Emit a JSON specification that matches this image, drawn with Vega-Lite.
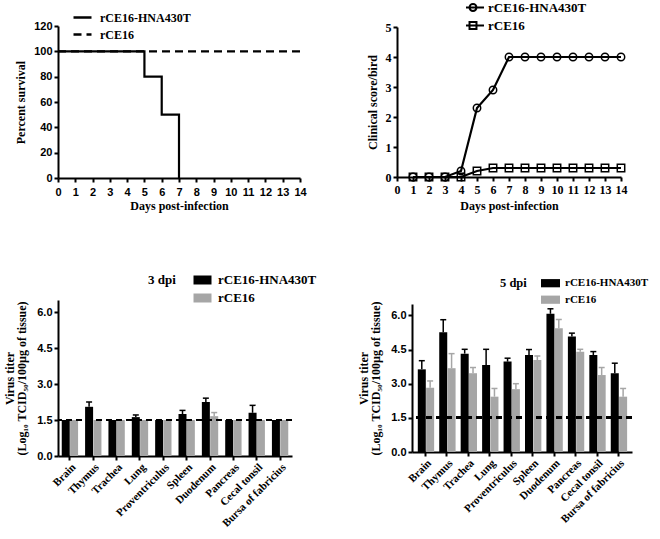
{
  "$schema": "https://vega.github.io/schema/vega-lite/v6.json",
  "autosize": {"type": "none"},
  "padding": {"left": 58, "top": 26, "right": 602, "bottom": 513},
  "bounds": "flush",
  "spacing": 274,
  "resolve": {"scale": {"color": "independent", "shape": "independent", "strokeDash": "independent"}, "legend": {"color": "independent", "shape": "independent", "strokeDash": "independent"}},
  "config": {
    "view": {"stroke": null},
    "axis": {"grid": false, "domainColor": "black", "domainWidth": 2, "tickColor": "black", "tickWidth": 2, "tickSize": 4, "labelColor": "black", "titleColor": "black", "labelFontWeight": "bold", "titleFontWeight": "bold", "titleFont": "Liberation Serif", "titleFontSize": 12, "labelFont": "Liberation Sans", "labelFontSize": 11, "labelPadding": 2, "labelOverlap": false, "labelFlush": false},
    "legend": {"labelColor": "black", "titleColor": "black"}
  },
  "vconcat": [
    {
      "hconcat": [
        {
          "width": 242,
          "height": 152,
          "data": {"values": [
            {"day": 0, "pct": 100, "virus": "rCE16"},
            {"day": 14, "pct": 100, "virus": "rCE16"},
            {"day": 0, "pct": 100, "virus": "rCE16-HNA430T"},
            {"day": 5, "pct": 80, "virus": "rCE16-HNA430T"},
            {"day": 6, "pct": 50, "virus": "rCE16-HNA430T"},
            {"day": 7, "pct": 0, "virus": "rCE16-HNA430T"}
          ]},
          "mark": {"type": "line", "interpolate": "step-after", "color": "black", "strokeWidth": 2.2},
          "encoding": {
            "x": {"field": "day", "type": "quantitative", "scale": {"domain": [0, 14], "nice": false}, "axis": {"values": [0,1,2,3,4,5,6,7,8,9,10,11,12,13,14], "format": "d", "title": "Days post-infection", "titlePadding": 3, "labelPadding": 4}},
            "y": {"field": "pct", "type": "quantitative", "scale": {"domain": [0, 120]}, "axis": {"values": [0,20,40,60,80,100,120], "format": "d", "title": "Percent survival", "titlePadding": 6}},
            "strokeDash": {"field": "virus", "type": "nominal", "scale": {"domain": ["rCE16-HNA430T", "rCE16"], "range": [[1, 0], [8, 5]]}, "legend": {"title": null, "orient": "none", "legendX": 17, "legendY": -16, "symbolType": "M-1.5,0H1.5", "symbolSize": 144, "symbolStrokeWidth": 2.5, "symbolStrokeColor": "black", "labelFont": "Liberation Serif", "labelFontWeight": "bold", "labelFontSize": 12, "labelOffset": 10, "rowPadding": 3, "padding": 0}}
          }
        },
        {
          "width": 224,
          "height": 150,
          "data": {"values": [
            {"day": 1, "score": 0, "virus": "rCE16-HNA430T"},
            {"day": 2, "score": 0, "virus": "rCE16-HNA430T"},
            {"day": 3, "score": 0, "virus": "rCE16-HNA430T"},
            {"day": 4, "score": 0.2, "virus": "rCE16-HNA430T"},
            {"day": 5, "score": 2.3, "virus": "rCE16-HNA430T"},
            {"day": 6, "score": 2.9, "virus": "rCE16-HNA430T"},
            {"day": 7, "score": 4, "virus": "rCE16-HNA430T"},
            {"day": 8, "score": 4, "virus": "rCE16-HNA430T"},
            {"day": 9, "score": 4, "virus": "rCE16-HNA430T"},
            {"day": 10, "score": 4, "virus": "rCE16-HNA430T"},
            {"day": 11, "score": 4, "virus": "rCE16-HNA430T"},
            {"day": 12, "score": 4, "virus": "rCE16-HNA430T"},
            {"day": 13, "score": 4, "virus": "rCE16-HNA430T"},
            {"day": 14, "score": 4, "virus": "rCE16-HNA430T"},
            {"day": 1, "score": 0, "virus": "rCE16"},
            {"day": 2, "score": 0, "virus": "rCE16"},
            {"day": 3, "score": 0, "virus": "rCE16"},
            {"day": 4, "score": 0, "virus": "rCE16"},
            {"day": 5, "score": 0.2, "virus": "rCE16"},
            {"day": 6, "score": 0.3, "virus": "rCE16"},
            {"day": 7, "score": 0.3, "virus": "rCE16"},
            {"day": 8, "score": 0.3, "virus": "rCE16"},
            {"day": 9, "score": 0.3, "virus": "rCE16"},
            {"day": 10, "score": 0.3, "virus": "rCE16"},
            {"day": 11, "score": 0.3, "virus": "rCE16"},
            {"day": 12, "score": 0.3, "virus": "rCE16"},
            {"day": 13, "score": 0.3, "virus": "rCE16"},
            {"day": 14, "score": 0.3, "virus": "rCE16"}
          ]},
          "encoding": {
            "x": {"field": "day", "type": "quantitative", "scale": {"domain": [0, 14], "nice": false}, "axis": {"values": [0,1,2,3,4,5,6,7,8,9,10,11,12,13,14], "format": "d", "title": "Days post-infection", "titlePadding": 5, "labelPadding": 3, "labelFont": "Liberation Serif", "labelFontSize": 12}},
            "y": {"field": "score", "type": "quantitative", "scale": {"domain": [0, 5]}, "axis": {"values": [0,1,2,3,4,5], "format": "d", "title": "Clinical score/bird", "titlePadding": 6, "labelFont": "Liberation Serif", "labelFontSize": 12}}
          },
          "layer": [
            {
              "mark": {"type": "line", "color": "black", "strokeWidth": 2.2},
              "encoding": {"detail": {"field": "virus", "type": "nominal"}}
            },
            {
              "mark": {"type": "point", "filled": false, "color": "black", "strokeWidth": 1.5, "size": 55, "opacity": 1},
              "encoding": {
                "shape": {"field": "virus", "type": "nominal", "scale": {"domain": ["rCE16-HNA430T", "rCE16"], "range": ["circle", "square"]}, "legend": null}
              }
            },
            {
              "transform": [{"filter": "false"}],
              "mark": {"type": "point", "filled": false, "color": "black", "strokeWidth": 2, "opacity": 1},
              "encoding": {
                "shape": {"field": "virus", "type": "nominal", "scale": {"domain": ["rCE16-HNA430T", "rCE16"], "range": ["M-1.83,0H1.83M0.58,0A0.58,0.58,0,1,1,-0.58,0A0.58,0.58,0,1,1,0.58,0", "M-1.83,0H1.83M-0.58,-0.58H0.58V0.58H-0.58Z"]}, "legend": {"title": null, "orient": "none", "legendX": 69, "legendY": -26, "symbolSize": 144, "symbolStrokeWidth": 2, "symbolStrokeColor": "black", "labelFont": "Liberation Serif", "labelFontWeight": "bold", "labelFontSize": 13, "labelOffset": 8, "clipHeight": 13, "rowPadding": 4, "padding": 0}}
              }
            }
          ],
          "resolve": {"scale": {"shape": "independent"}, "legend": {"shape": "independent"}}
        }
      ],
      "spacing": 97,
      "bounds": "flush",
      "center": true,
      "resolve": {"scale": {"shape": "independent", "strokeDash": "independent"}, "legend": {"shape": "independent", "strokeDash": "independent"}}
    },
    {
      "hconcat": [
        {
          "width": 234,
          "height": 156,
          "data": {"values": [
            {"tissue": "Brain", "virus": "rCE16-HNA430T", "value": 1.5, "upper": null},
            {"tissue": "Brain", "virus": "rCE16", "value": 1.5, "upper": null},
            {"tissue": "Thymus", "virus": "rCE16-HNA430T", "value": 2.05, "upper": 2.25},
            {"tissue": "Thymus", "virus": "rCE16", "value": 1.5, "upper": null},
            {"tissue": "Trachea", "virus": "rCE16-HNA430T", "value": 1.5, "upper": null},
            {"tissue": "Trachea", "virus": "rCE16", "value": 1.5, "upper": null},
            {"tissue": "Lung", "virus": "rCE16-HNA430T", "value": 1.62, "upper": 1.71},
            {"tissue": "Lung", "virus": "rCE16", "value": 1.5, "upper": null},
            {"tissue": "Proventriculus", "virus": "rCE16-HNA430T", "value": 1.5, "upper": null},
            {"tissue": "Proventriculus", "virus": "rCE16", "value": 1.5, "upper": null},
            {"tissue": "Spleen", "virus": "rCE16-HNA430T", "value": 1.75, "upper": 1.9},
            {"tissue": "Spleen", "virus": "rCE16", "value": 1.5, "upper": null},
            {"tissue": "Duodenum", "virus": "rCE16-HNA430T", "value": 2.25, "upper": 2.41},
            {"tissue": "Duodenum", "virus": "rCE16", "value": 1.66, "upper": 1.81},
            {"tissue": "Pancreas", "virus": "rCE16-HNA430T", "value": 1.5, "upper": null},
            {"tissue": "Pancreas", "virus": "rCE16", "value": 1.5, "upper": null},
            {"tissue": "Cecal tonsil", "virus": "rCE16-HNA430T", "value": 1.8, "upper": 2.11},
            {"tissue": "Cecal tonsil", "virus": "rCE16", "value": 1.5, "upper": null},
            {"tissue": "Bursa of fabricius", "virus": "rCE16-HNA430T", "value": 1.5, "upper": null},
            {"tissue": "Bursa of fabricius", "virus": "rCE16", "value": 1.5, "upper": null}
          ]},
          "layer": [
            {
              "mark": {"type": "bar"},
              "encoding": {
                "x": {"field": "tissue", "type": "nominal", "sort": null, "scale": {"paddingInner": 0.3, "paddingOuter": 0.16}, "axis": {"title": null, "labelAngle": -45, "labelAlign": "right", "labelBaseline": "top", "labelFont": "Liberation Serif", "labelFontSize": 11, "labelPadding": 1}},
                "xOffset": {"field": "virus", "type": "nominal", "sort": ["rCE16-HNA430T", "rCE16"], "scale": {"paddingInner": 0.04}},
                "y": {"field": "value", "type": "quantitative", "scale": {"domain": [0, 6.5], "nice": false}, "axis": {"values": [0, 1.5, 3, 4.5, 6], "tickCount": 10, "format": ".1f", "labelOverlap": false, "title": ["Virus titer", "(Log₁₀ TCID₅₀/100µg of tissue)"], "titleLineHeight": 12, "titlePadding": 8}},
                "color": {"field": "virus", "type": "nominal", "scale": {"domain": ["rCE16-HNA430T", "rCE16"], "range": ["#000000", "#a6a6a6"]}, "legend": {"title": "3 dpi", "titleOrient": "left", "titleAnchor": "start", "titleBaseline": "top", "titleFont": "Liberation Serif", "titleFontWeight": "bold", "titleFontSize": 13, "titlePadding": 20, "orient": "none", "legendX": 90, "legendY": -26.5, "symbolType": "M-1.5,-0.75H1.5V0.75H-1.5Z", "symbolSize": 144, "symbolStrokeWidth": 0, "labelFont": "Liberation Serif", "labelFontWeight": "bold", "labelFontSize": 13, "labelOffset": 9, "rowPadding": 4, "padding": 0}}
              }
            },
            {
              "mark": {"type": "rule", "strokeWidth": 1.5},
              "encoding": {
                "x": {"field": "tissue", "type": "nominal", "sort": null},
                "xOffset": {"field": "virus", "type": "nominal", "sort": ["rCE16-HNA430T", "rCE16"]},
                "y": {"field": "value", "type": "quantitative"},
                "y2": {"field": "upper"},
                "color": {"field": "virus", "type": "nominal"}
              }
            },
            {
              "mark": {"type": "tick", "thickness": 1.5, "size": 6, "opacity": 1},
              "encoding": {
                "x": {"field": "tissue", "type": "nominal", "sort": null},
                "xOffset": {"field": "virus", "type": "nominal", "sort": ["rCE16-HNA430T", "rCE16"]},
                "y": {"field": "upper", "type": "quantitative"},
                "color": {"field": "virus", "type": "nominal"}
              }
            },
            {
              "mark": {"type": "rule", "strokeDash": [6, 4], "strokeWidth": 2, "color": "black"},
              "encoding": {"y": {"datum": 1.5}}
            }
          ]
        },
        {
          "width": 220,
          "height": 148,
          "data": {"values": [
            {"tissue": "Brain", "virus": "rCE16-HNA430T", "value": 3.63, "upper": 4.01},
            {"tissue": "Brain", "virus": "rCE16", "value": 2.82, "upper": 3.12},
            {"tissue": "Thymus", "virus": "rCE16-HNA430T", "value": 5.26, "upper": 5.81},
            {"tissue": "Thymus", "virus": "rCE16", "value": 3.68, "upper": 4.32},
            {"tissue": "Trachea", "virus": "rCE16-HNA430T", "value": 4.32, "upper": 4.51},
            {"tissue": "Trachea", "virus": "rCE16", "value": 3.46, "upper": 3.71},
            {"tissue": "Lung", "virus": "rCE16-HNA430T", "value": 3.82, "upper": 4.51},
            {"tissue": "Lung", "virus": "rCE16", "value": 2.43, "upper": 2.79},
            {"tissue": "Proventriculus", "virus": "rCE16-HNA430T", "value": 3.97, "upper": 4.12},
            {"tissue": "Proventriculus", "virus": "rCE16", "value": 2.76, "upper": 3.0},
            {"tissue": "Spleen", "virus": "rCE16-HNA430T", "value": 4.26, "upper": 4.5},
            {"tissue": "Spleen", "virus": "rCE16", "value": 4.04, "upper": 4.22},
            {"tissue": "Duodenum", "virus": "rCE16-HNA430T", "value": 6.07, "upper": 6.29},
            {"tissue": "Duodenum", "virus": "rCE16", "value": 5.44, "upper": 5.82},
            {"tissue": "Pancreas", "virus": "rCE16-HNA430T", "value": 5.07, "upper": 5.22},
            {"tissue": "Pancreas", "virus": "rCE16", "value": 4.4, "upper": 4.51},
            {"tissue": "Cecal tonsil", "virus": "rCE16-HNA430T", "value": 4.26, "upper": 4.41},
            {"tissue": "Cecal tonsil", "virus": "rCE16", "value": 3.38, "upper": 3.71},
            {"tissue": "Bursa of fabricius", "virus": "rCE16-HNA430T", "value": 3.46, "upper": 3.9},
            {"tissue": "Bursa of fabricius", "virus": "rCE16", "value": 2.43, "upper": 2.79}
          ]},
          "layer": [
            {
              "mark": {"type": "bar"},
              "encoding": {
                "x": {"field": "tissue", "type": "nominal", "sort": null, "scale": {"paddingInner": 0.28, "paddingOuter": 0.27}, "axis": {"title": null, "labelAngle": -45, "labelAlign": "right", "labelBaseline": "top", "labelFont": "Liberation Serif", "labelFontSize": 11, "labelPadding": 1}},
                "xOffset": {"field": "virus", "type": "nominal", "sort": ["rCE16-HNA430T", "rCE16"], "scale": {"paddingInner": 0.1}},
                "y": {"field": "value", "type": "quantitative", "scale": {"domain": [0, 6.5], "nice": false}, "axis": {"values": [0, 1.5, 3, 4.5, 6], "tickCount": 10, "format": ".1f", "labelOverlap": false, "title": ["Virus titer", "(Log₁₀ TCID₅₀/100µg of tissue)"], "titleLineHeight": 12, "titlePadding": 8}},
                "color": {"field": "virus", "type": "nominal", "scale": {"domain": ["rCE16-HNA430T", "rCE16"], "range": ["#000000", "#a6a6a6"]}, "legend": {"title": "5 dpi", "titleOrient": "left", "titleAnchor": "start", "titleBaseline": "top", "titleFont": "Liberation Serif", "titleFontWeight": "bold", "titleFontSize": 12.5, "titlePadding": 17, "orient": "none", "legendX": 88, "legendY": -27.3, "symbolType": "M-1.5,-0.65H1.5V0.65H-1.5Z", "symbolSize": 160, "symbolStrokeWidth": 0, "labelFont": "Liberation Serif", "labelFontWeight": "bold", "labelFontSize": 11, "labelOffset": 8, "rowPadding": 4.5, "padding": 0}}
              }
            },
            {
              "mark": {"type": "rule", "strokeWidth": 1.5},
              "encoding": {
                "x": {"field": "tissue", "type": "nominal", "sort": null},
                "xOffset": {"field": "virus", "type": "nominal", "sort": ["rCE16-HNA430T", "rCE16"]},
                "y": {"field": "value", "type": "quantitative"},
                "y2": {"field": "upper"},
                "color": {"field": "virus", "type": "nominal"}
              }
            },
            {
              "mark": {"type": "tick", "thickness": 1.5, "size": 6, "opacity": 1},
              "encoding": {
                "x": {"field": "tissue", "type": "nominal", "sort": null},
                "xOffset": {"field": "virus", "type": "nominal", "sort": ["rCE16-HNA430T", "rCE16"]},
                "y": {"field": "upper", "type": "quantitative"},
                "color": {"field": "virus", "type": "nominal"}
              }
            },
            {
              "mark": {"type": "rule", "strokeDash": [6, 4], "strokeWidth": 2, "color": "black"},
              "encoding": {"y": {"datum": 1.5}}
            }
          ]
        }
      ],
      "spacing": 120,
      "bounds": "flush",
      "center": true,
      "resolve": {"scale": {"color": "independent"}, "legend": {"color": "independent"}}
    }
  ]
}
